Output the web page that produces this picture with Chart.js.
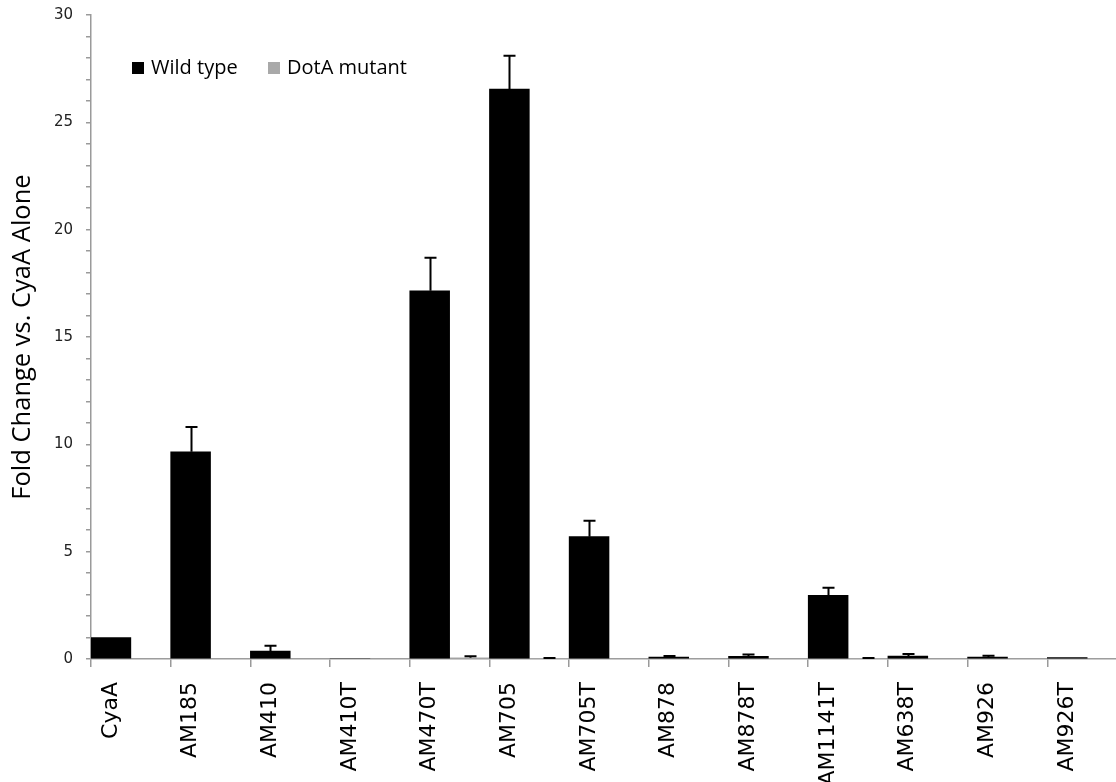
<!DOCTYPE html>
<html>
<head>
<meta charset="utf-8">
<script src="https://cdn.jsdelivr.net/npm/chart.js@4/dist/chart.umd.min.js"></script>
<style>
  html, body { margin: 0; padding: 0; background: #fff; overflow: hidden; }
  #wrap { width: 1127px; height: 782px; }
</style>
</head>
<body>
<div id="wrap"><canvas id="c" width="1127" height="782"></canvas></div>
<script>
// Constructs tested in the CyaA translocation assay
const categories = ['CyaA', 'AM185', 'AM410', 'AM410T', 'AM470T', 'AM705', 'AM705T',
                    'AM878', 'AM878T', 'AM1141T', 'AM638T', 'AM926', 'AM926T'];

// Fold change vs. CyaA alone, mean values
const wildType   = [1.0, 9.65, 0.37, 0, 17.15, 26.55, 5.7, 0.09, 0.13, 2.97, 0.14, 0.09, 0.07];
const dotAMutant = [0, 0, 0, 0, 0.06, 0.03, 0, 0, 0, 0.03, 0, 0, 0];

// Upper error (standard deviation) for each mean
const wildTypeErr   = [0, 1.16, 0.25, 0, 1.54, 1.55, 0.74, 0.05, 0.08, 0.35, 0.09, 0.06, 0];
const dotAMutantErr = [0, 0, 0, 0, 0.07, 0.02, 0, 0, 0, 0.02, 0, 0, 0];

// Y axis range and labelled tick interval
const yMax = 30;
const yLabelStep = 5;

const seriesNames = ['Wild type', 'DotA mutant'];
const seriesColors = ['#000000', '#a9a9a9'];

// Upper-only error bars with a short cap
const errorBars = {
  id: 'errorBars',
  afterDatasetsDraw(chart) {
    const ctx = chart.ctx;
    const y = chart.scales.y;
    ctx.save();
    ctx.strokeStyle = '#000';
    ctx.lineWidth = 2;
    chart.data.datasets.forEach((ds, di) => {
      const meta = chart.getDatasetMeta(di);
      ds.errors.forEach((e, i) => {
        if (!e) return;
        const bar = meta.data[i];
        const x = Math.round(bar.x) + 0.5;
        const y0 = y.getPixelForValue(ds.data[i]);
        const y1 = y.getPixelForValue(ds.data[i] + e);
        ctx.beginPath();
        ctx.moveTo(x, y0);
        ctx.lineTo(x, y1);
        ctx.moveTo(x - 6, y1);
        ctx.lineTo(x + 6, y1);
        ctx.stroke();
      });
    });
    ctx.restore();
  }
};

// Legend drawn inside the plot area, upper left
const insetLegend = {
  id: 'insetLegend',
  afterDraw(chart) {
    const ctx = chart.ctx;
    const area = chart.chartArea;
    const top = area.top + 47;
    const starts = [area.left + 41, area.left + 177];
    ctx.save();
    ctx.font = '20px "Open Sans"';
    ctx.textBaseline = 'middle';
    ctx.textAlign = 'left';
    chart.data.datasets.forEach((ds, i) => {
      const x = starts[i];
      ctx.fillStyle = ds.backgroundColor;
      ctx.fillRect(x, top, 12, 12);
      ctx.fillStyle = '#000';
      ctx.fillText(ds.label, x + 19, top + 6);
    });
    ctx.restore();
  }
};

new Chart(document.getElementById('c'), {
  type: 'bar',
  data: {
    labels: categories,
    datasets: [
      { label: seriesNames[0], data: wildType, errors: wildTypeErr,
        backgroundColor: seriesColors[0], borderWidth: 0 },
      { label: seriesNames[1], data: dotAMutant, errors: dotAMutantErr,
        backgroundColor: seriesColors[1], borderWidth: 0 }
    ]
  },
  options: {
    responsive: false,
    animation: false,
    devicePixelRatio: 1,
    layout: { padding: { top: 15, right: 0, bottom: 0, left: 0 } },
    datasets: { bar: { categoryPercentage: 1.0, barPercentage: 1.0 } },
    plugins: {
      legend: { display: false },
      tooltip: { enabled: false }
    },
    scales: {
      x: {
        offset: true,
        grid: {
          offset: true,
          drawOnChartArea: false,
          drawTicks: true,
          tickLength: 8,
          color: '#9a9a9a',
          lineWidth: 1.5
        },
        border: { color: '#9a9a9a', width: 1.5 },
        ticks: {
          autoSkip: false,
          maxRotation: 90,
          minRotation: 90,
          padding: 15,
          labelOffset: -20,
          color: '#000',
          font: { family: '"DejaVu Sans"', size: 22 }
        },
        afterFit(scale) {
          scale.height = 123;
          scale.paddingLeft = 0;
          scale.paddingRight = 0;
        }
      },
      y: {
        min: 0,
        max: yMax,
        grid: {
          drawOnChartArea: false,
          drawTicks: true,
          tickLength: 5,
          color: '#9a9a9a',
          lineWidth: 1.5
        },
        border: { color: '#9a9a9a', width: 1.5 },
        ticks: {
          stepSize: 1,
          autoSkip: false,
          padding: 13,
          color: '#222',
          font: { family: '"DejaVu Sans"', size: 15 },
          callback: (v) => (v % yLabelStep === 0 ? String(v) : '')
        },
        title: {
          display: true,
          text: 'Fold Change vs. CyaA Alone',
          color: '#000',
          font: { family: '"Open Sans"', size: 25.5 },
          padding: { top: 7, bottom: 0 }
        },
        afterFit(scale) {
          scale.width = 91;
          scale.paddingTop = 0;
          scale.paddingBottom = 0;
        }
      }
    }
  },
  plugins: [errorBars, insetLegend]
});
</script>
</body>
</html>
